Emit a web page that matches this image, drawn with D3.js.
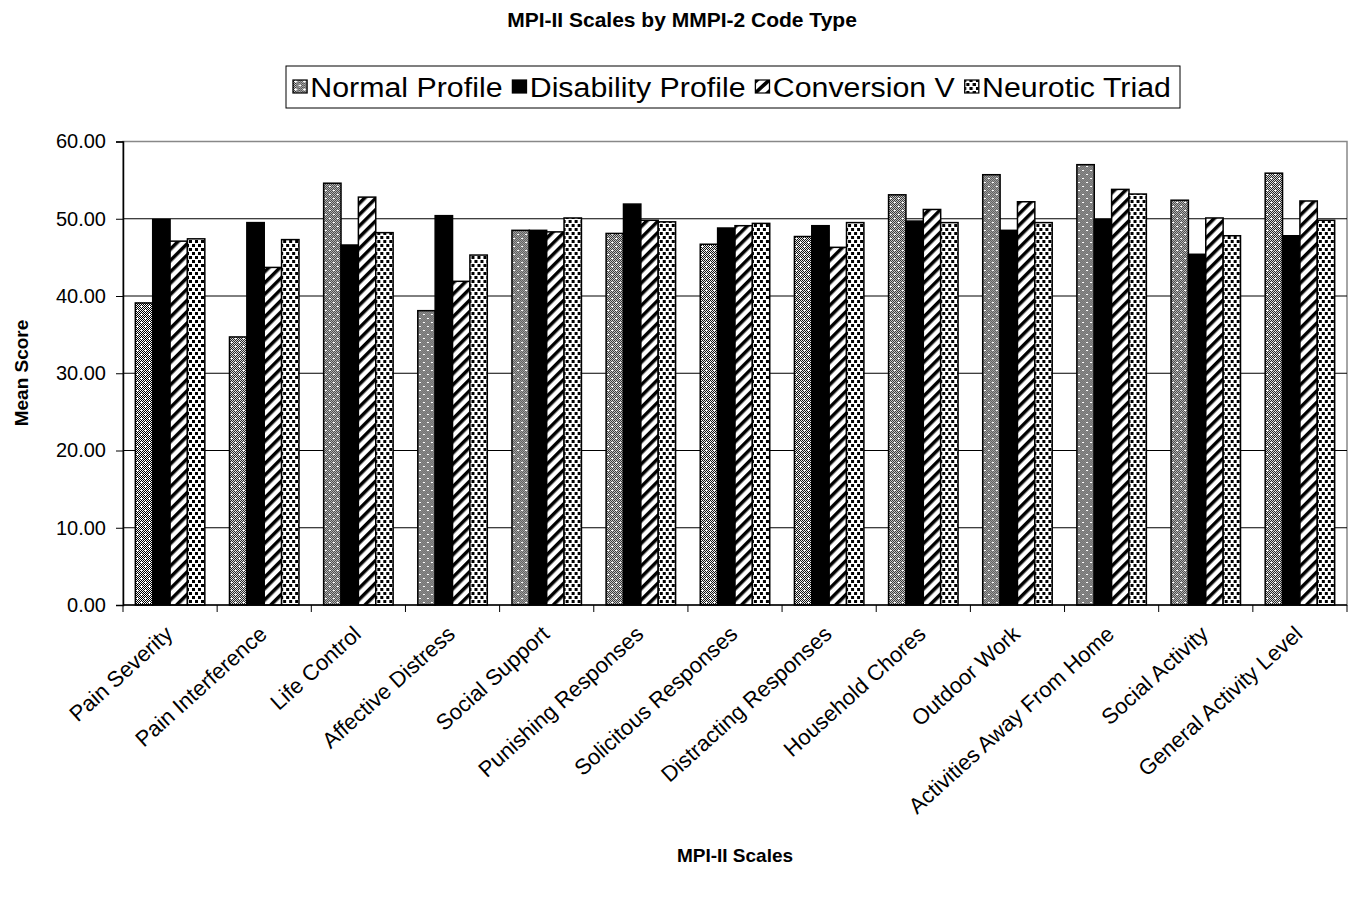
<!DOCTYPE html>
<html>
<head>
<meta charset="utf-8">
<script src="https://cdn.jsdelivr.net/npm/d3@7"></script>
<style>
  html, body { margin: 0; padding: 0; background: #fff; }
  svg text { font-family: Arial, "Liberation Sans", sans-serif; fill: #000; }
</style>
</head>
<body>
<svg id="chart" width="1354" height="897"></svg>
<script>
// MPI-II scale means for each MMPI-2 code type
const categories = [
  "Pain Severity", "Pain Interference", "Life Control", "Affective Distress",
  "Social Support", "Punishing Responses", "Solicitous Responses",
  "Distracting Responses", "Household Chores", "Outdoor Work",
  "Activities Away From Home", "Social Activity", "General Activity Level"
];
const seriesNames = ["Normal Profile", "Disability Profile", "Conversion V", "Neurotic Triad"];
const normalProfile     = [39.1, 34.7, 54.6, 38.1, 48.5, 48.1, 46.7, 47.7, 53.1, 55.7, 57.0, 52.4, 55.9];
const disabilityProfile = [49.9, 49.5, 46.6, 50.4, 48.5, 51.9, 48.8, 49.1, 49.7, 48.5, 49.9, 45.4, 47.8];
const conversionV       = [47.1, 43.7, 52.8, 41.9, 48.3, 49.8, 49.1, 46.3, 51.2, 52.2, 53.8, 50.1, 52.3];
const neuroticTriad     = [47.4, 47.3, 48.2, 45.3, 50.1, 49.6, 49.4, 49.5, 49.5, 49.5, 53.2, 47.8, 49.8];
const yTicks = [0, 10, 20, 30, 40, 50, 60];

const seriesValues = [normalProfile, disabilityProfile, conversionV, neuroticTriad];
const data = categories.map((c, i) => ({ category: c, values: seriesValues.map(s => s[i]) }));

const svg = d3.select("#chart");
const plot = { left: 123, right: 1347, top: 141.5, bottom: 605 };

// Fill patterns for the four series
const defs = svg.append("defs");
const checker = defs.append("pattern").attr("id", "checker")
  .attr("patternUnits", "userSpaceOnUse").attr("width", 2).attr("height", 2);
checker.append("rect").attr("width", 2).attr("height", 2).attr("fill", "#fff");
checker.append("rect").attr("width", 1).attr("height", 1).attr("fill", "#000");
checker.append("rect").attr("x", 1).attr("y", 1).attr("width", 1).attr("height", 1).attr("fill", "#000");

const pNormal = defs.append("pattern").attr("id", "pat-normal")
  .attr("patternUnits", "userSpaceOnUse").attr("width", 8).attr("height", 8);
pNormal.append("rect").attr("width", 8).attr("height", 8).attr("fill", "url(#checker)");
[[2, 2], [6, 6]].forEach(([x, y]) => {
  pNormal.append("rect").attr("x", x - 1).attr("y", y).attr("width", 3).attr("height", 1).attr("fill", "#fff");
  pNormal.append("rect").attr("x", x).attr("y", y - 1).attr("width", 1).attr("height", 3).attr("fill", "#fff");
});

const pConv = defs.append("pattern").attr("id", "pat-conv")
  .attr("patternUnits", "userSpaceOnUse").attr("width", 8).attr("height", 8)
  .attr("patternTransform", "rotate(45)");
pConv.append("rect").attr("width", 8).attr("height", 8).attr("fill", "#fff");
pConv.append("rect").attr("width", 3.5).attr("height", 8).attr("fill", "#000");

const pNeur = defs.append("pattern").attr("id", "pat-neur")
  .attr("patternUnits", "userSpaceOnUse").attr("width", 6).attr("height", 8);
pNeur.append("rect").attr("width", 6).attr("height", 8).attr("fill", "#fff");
pNeur.append("rect").attr("x", 0).attr("y", 0).attr("width", 3).attr("height", 3).attr("fill", "#000");
pNeur.append("rect").attr("x", 3).attr("y", 4).attr("width", 3).attr("height", 3).attr("fill", "#000");

const fills = ["url(#pat-normal)", "#000", "url(#pat-conv)", "url(#pat-neur)"];

// Scales
const x0 = d3.scaleBand().domain(categories).range([plot.left, plot.right]).paddingInner(0).paddingOuter(0);
const x1 = d3.scaleBand().domain(d3.range(4)).range([0, x0.bandwidth()]).paddingInner(0).paddingOuter(0.71);
const y = d3.scaleLinear().domain([0, 60]).range([plot.bottom, plot.top]);

// Title
svg.append("text").attr("x", 682).attr("y", 27).attr("text-anchor", "middle")
  .attr("font-size", 21).attr("font-weight", "bold").text("MPI-II Scales by MMPI-2 Code Type");

// Plot frame (gray) and gridlines
svg.append("rect").attr("x", plot.left).attr("y", plot.top)
  .attr("width", plot.right - plot.left).attr("height", plot.bottom - plot.top)
  .attr("fill", "none").attr("stroke", "#888").attr("stroke-width", 1.5);
svg.append("g").selectAll("line").data(yTicks.filter(t => t > 0 && t < 60)).join("line")
  .attr("x1", plot.left).attr("x2", plot.right)
  .attr("y1", d => y(d)).attr("y2", d => y(d))
  .attr("stroke", "#000").attr("stroke-width", 1);

// Bars
const groups = svg.append("g").selectAll("g").data(data).join("g")
  .attr("transform", d => `translate(${x0(d.category)},0)`);
groups.selectAll("rect").data(d => d.values.map((v, i) => ({ v, i }))).join("rect")
  .attr("x", d => x1(d.i))
  .attr("y", d => y(d.v))
  .attr("width", x1.bandwidth())
  .attr("height", d => y(0) - y(d.v))
  .attr("fill", d => fills[d.i])
  .attr("stroke", "#000").attr("stroke-width", 1.5);

// Y axis
const yAxis = d3.axisLeft(y).tickValues(yTicks).tickFormat(d3.format(".2f")).tickSizeOuter(0).tickSize(7).tickPadding(10);
const gy = svg.append("g").attr("transform", `translate(${plot.left},0)`).call(yAxis);
gy.select(".domain").attr("stroke", "#000").attr("stroke-width", 1.5);
gy.selectAll(".tick line").attr("stroke", "#000");
gy.selectAll("text").attr("font-size", 20).attr("font-family", "Arial, 'Liberation Sans', sans-serif");

// X axis: ticks at category boundaries
svg.append("line").attr("x1", plot.left).attr("x2", plot.right)
  .attr("y1", plot.bottom).attr("y2", plot.bottom).attr("stroke", "#000").attr("stroke-width", 1.5);
const boundaries = categories.map(c => x0(c)).concat([x0(categories[categories.length - 1]) + x0.bandwidth()]);
svg.append("g").selectAll("line").data(boundaries).join("line")
  .attr("x1", d => d).attr("x2", d => d)
  .attr("y1", plot.bottom).attr("y2", plot.bottom + 7)
  .attr("stroke", "#000");
svg.append("g").selectAll("text").data(categories).join("text")
  .attr("transform", d => `translate(${x0(d) + x0.bandwidth() / 2 + 4},${plot.bottom + 31}) rotate(-42)`)
  .attr("text-anchor", "end")
  .attr("font-size", 22)
  .text(d => d);

// Axis titles
svg.append("text").attr("transform", "translate(28,373) rotate(-90)")
  .attr("text-anchor", "middle").attr("font-size", 19).attr("font-weight", "bold").text("Mean Score");
svg.append("text").attr("x", 735).attr("y", 862).attr("text-anchor", "middle")
  .attr("font-size", 19).attr("font-weight", "bold").text("MPI-II Scales");

// Legend
const legendLeft = 286, legendRight = 1180;
const legend = svg.append("g");
const items = legend.append("g");
let lx = 0;
seriesNames.forEach((name, i) => {
  items.append("rect").attr("x", lx).attr("y", -7).attr("width", 13).attr("height", 13)
    .attr("fill", fills[i]).attr("stroke", "#000").attr("stroke-width", 1.2);
  const t = items.append("text").attr("x", lx + 16).attr("y", 10)
    .attr("font-size", 28).text(name);
  lx += 16 + t.node().getComputedTextLength() + 9;
});
const sx = (legendRight - legendLeft - 16) / (lx - 9);
items.attr("transform", `translate(${legendLeft + 7},87) scale(${sx},1)`);
legend.insert("rect", ":first-child").attr("x", legendLeft).attr("y", 66)
  .attr("width", legendRight - legendLeft).attr("height", 42)
  .attr("fill", "#fff").attr("stroke", "#000").attr("stroke-width", 1);
</script>
</body>
</html>
